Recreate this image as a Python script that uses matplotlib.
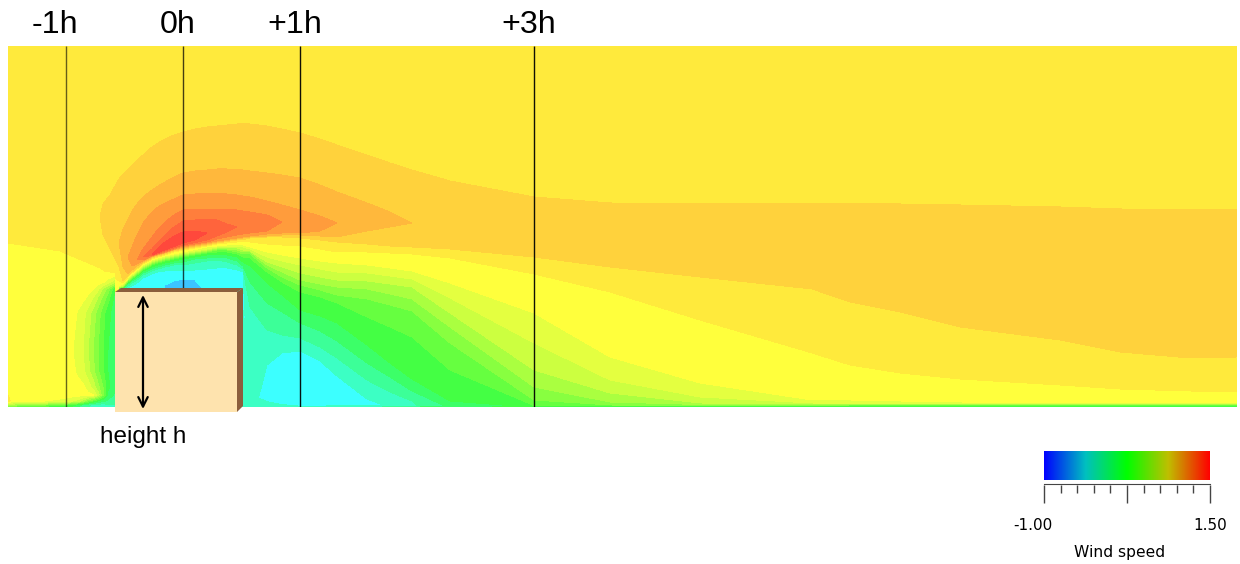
import numpy as np
import matplotlib
matplotlib.use('Agg')
import matplotlib.pyplot as plt
from matplotlib.colors import LinearSegmentedColormap
from matplotlib.patches import Polygon

plt.rcParams['font.family'] = ['Liberation Sans', 'DejaVu Sans']

# wind speed bands
levels = [-0.5, -0.4, -0.3, -0.2, -0.1, 0.0, 0.1, 0.2, 0.3, 0.4, 0.5, 0.6, 0.7, 0.8, 0.9, 1.0, 1.1, 1.2, 1.3, 1.4]
band_colors = ['#3CC4FF', '#3CFFFF', '#3CFFC4', '#3CFF98', '#3CFF68', '#44FF44', '#66FF40', '#88FF40',
               '#AAFF40', '#CCFF40', '#E4FF40', '#FFFF3C', '#FFEA3C', '#FFD23C', '#FFB83C', '#FF9C3C',
               '#FF7E3C', '#FF643C', '#FF483C']

# stations along the wind (px scale, 117 = one building height)
x_st = [8, 60, 100, 103, 110, 119, 123,
        128, 132, 137, 143, 152, 158, 165, 174, 183, 195, 207, 217, 227, 237, 243,
        250, 267, 282, 300, 320, 337, 367, 390, 412, 450, 534,
        610, 700, 812, 850, 900, 960, 1060, 1120, 1190, 1237]

u_ground = [.3, .3, .3, .3, .3, -.1, -.2,
            -.2, -.2, -.2, -.2, -.2, -.2, -.2, -.2, -.2, -.2, -.2, -.2, -.2, -.2, -.2,
            -.22, -.24, -.26, -.28, -.27, -.26, -.24, -.18, -.12, -.03, .03,
            .05, .05, .05, .05, .05, .05, .05, .05, .05, .05]
u_low = [.3, .3, .3, .3, .3, -.1, -.2,
         -.3, -.31, -.33, -.34, -.36, -.38, -.40, -.43, -.46, -.44, -.39, -.37, -.36, -.35, -.32,
         -.27, -.33, -.36, -.38, -.38, -.37, -.33, -.29, -.22, -.08, .02,
         .05, .05, .05, .05, .05, .05, .05, .05, .05, .05]
u_peak = [.75, .75, .80, .82, .87, .90, .95,
          1.0, 1.05, 1.1, 1.2, 1.3, 1.33, 1.35, 1.37, 1.38, 1.35, 1.30, 1.27, 1.24, 1.20, 1.19,
          1.17, 1.13, 1.10, 1.06, 1.03, 1.0, .96, .93, .90, .87, .85,
          .85, .85, .85, .85, .85, .85, .85, .85, .85, .85]
u_top = 0.75

# heights of the iso lines at each station, lower side of the peak
z_low = [.2, .2, .2, .2, .2, 115, 115,
         116, 116, 116, 116, 116, 116, 116, 116, 116, 116, 116, 116, 116, 116, 116,
         10, 8, 6, 4, 3.5, 3, 2, 1.5, 1, .5, .3,
         .3, .3, .3, .3, .3, .3, .3, .3, .3, .3]
z_m04 = [.2, .2, .2, .2, .2, 115, 115,
         116, 116, 116, 116, 116, 116, 122, 126, 128, 127, 122, 116, 116, 116, 116,
         10, 8, 6, 4, 3.5, 3, 2, 1.5, 1, .5, .3,
         .3, .3, .3, .3, .3, .3, .3, .3, .3, .3]
z_m03 = [.3, .3, .3, .3, .3, 115, 116,
         119, 121, 124, 129, 133, 135, 136, 136, 136, 137, 138, 139, 139, 137, 135,
         12, 42, 54, 56, 46, 31, 8, 1.5, 1, .5, .3,
         .3, .3, .3, .3, .3, .3, .3, .3, .3, .3]
z_m02 = [.4, .4, .4, .4, .4, 116, 117,
         121, 124, 127, 132, 136, 138, 140, 142, 142, 144, 146, 147, 145, 142, 138,
         100, 77, 72, 69, 60, 49, 27, 15, 6, .6, .4,
         .4, .4, .4, .4, .4, .4, .4, .4, .4, .4]
z_m01 = [.5, .5, .5, .5, .5, 117, 118,
         123, 126, 129, 134, 138, 140, 142, 144, 145, 148, 149, 150, 149, 146, 141,
         125, 104, 95, 84, 76, 66, 44, 30, 16, 2, .5,
         .5, .5, .5, .5, .5, .5, .5, .5, .5, .5]
z_p00 = [.6, .6, .6, .6, .6, 118, 119,
         124, 127.5, 131, 136, 140, 142, 144, 146, 148, 150, 152, 153, 152, 150, 145,
         141, 124, 112, 97, 91, 84, 62, 44, 28, 6, .8,
         .6, .6, .6, .6, .6, .6, .6, .6, .6, .6]
z_p01 = [.8, .8, .8, .8, .8, 118.5, 119.5,
         125, 128.5, 132, 137, 142, 144, 146, 148, 150, 152, 154, 155, 155, 153, 150,
         149, 135, 125, 115, 110, 104, 90, 80, 70, 37, 1.5,
         1, 1, 1, 1.5, 1.5, 1.5, 1.5, 1.5, 1.5, 1.5]
z_p02 = [1, 1, 1, 1, 1, 119, 120,
         126, 129.5, 133, 138, 143, 145, 147, 149, 151, 153, 155, 157, 157, 155, 153,
         153, 139, 130, 122, 117, 112, 108, 102, 96, 64, 7,
         2, 1.5, 1.5, 2, 2, 2, 2, 2, 2, 2]
z_p03 = [2, 2, 2, 2, 2, 119.5, 120.5,
         127, 130.5, 134, 139, 144, 146, 148, 150, 152, 154, 156, 158, 158, 157, 155,
         155, 142, 135, 127, 123, 120, 118, 113, 108, 80, 20,
         5, 2.5, 2.5, 2.5, 2.5, 2.5, 2.5, 2.5, 2.5, 2.5]
z_p04 = [4, 4, 4, 4, 4, 120, 121,
         127.5, 131, 135, 140, 145, 147, 149, 151, 153, 155, 157, 159, 159, 159, 157,
         156, 145, 140, 134, 130, 127, 126, 123, 120, 94, 37,
         14, 4, 3, 3, 3, 3, 3, 3, 3, 3]
z_p05 = [8, 8, 8, 8, 8, 120, 122,
         128, 132, 136, 141, 146, 148, 150, 152, 154, 156, 158, 160, 160.5, 161, 160,
         158, 150, 146, 142, 138, 135, 134, 131, 128, 109, 64,
         27, 10, 4, 3.5, 3.5, 3.5, 3.5, 3.5, 3.5, 3.5]
z_p06 = [12, 12, 12, 12, 12, 121, 123,
         129, 133, 137, 142, 147, 149, 151, 153, 155, 157.5, 160, 161, 162, 162, 162,
         160, 155, 152, 149, 146, 144, 142, 139, 136, 124, 94,
         50, 24, 7, 7, 6, 5, 4, 4, 4, 4]
z_p07 = [164, 156, 139, 137, 132, 126, 124,
         130, 134, 138, 143, 148, 150, 152, 155, 157, 159, 161, 163, 164, 165, 166,
         165, 163, 162, 161, 158, 155, 155, 154, 153, 149, 133,
         115, 87, 54, 42, 34, 28, 22, 18, 16, 15]

# upstream and far wake are shared by the rows around the peak
z_head = [250, 230, 190, 185, 178, 164, 157]
z_tail = [172, 165, 158, 155, 150, 145, 135, 128, 123, 123]

z_p08l = ([250, 230, 190, 172, 158, 140, 126, 131, 135, 139, 144, 149, 151, 153, 156, 158, 160, 162, 164, 165.5, 167,
           167.5, 169, 170, 170, 169, 167, 165, 163, 161, 160, 158, 150] + [140, 130, 118, 105, 95, 80, 67, 55, 49, 50])
z_p09l = ([250, 230, 190, 185, 178, 164, 140, 133, 137, 141, 145, 150, 152, 154, 157, 159, 161, 163, 165, 166.5, 168,
           169, 170, 171, 172, 172, 171, 170, 176, 180, 184, 185, 180] + z_tail)
z_p10l = (z_head + [150, 141, 143, 146, 150.5, 152.5, 154.5, 157.5, 160, 162, 164, 166, 167.5, 169, 170,
                    171, 173, 174, 174, 176, 184, 184, 184, 184, 185, 180] + z_tail)
z_p11l = (z_head + [150, 148, 147, 147, 151, 153, 155, 158, 161, 163, 165, 168, 170, 172, 173,
                    174, 176, 185, 185, 185, 184, 184, 184, 184, 185, 180] + z_tail)
z_p12l = (z_head + [150, 148, 147, 150, 151.5, 153.5, 156, 159, 162, 164.5, 167, 171, 175, 180, 181,
                    182, 184, 185, 185, 185, 184, 184, 184, 184, 185, 180] + z_tail)
z_p13l = (z_head + [150, 148, 147, 150, 152, 154.5, 157, 160.5, 164, 167, 174, 176, 178, 180, 181,
                    182, 184, 185, 185, 185, 184, 184, 184, 184, 185, 180] + z_tail)
z_peak = (z_head + [150, 148, 147, 150, 152, 157, 161, 166, 170, 172, 174, 176, 178, 180, 181,
                    182, 184, 185, 185, 185, 184, 184, 184, 184, 185, 180] + z_tail)

# upper side of the peak
z_p13u = (z_head + [150, 148, 147, 150, 152, 159, 165, 171, 175, 176, 174, 176, 178, 180, 181,
                    182, 184, 185, 185, 185, 184, 184, 184, 184, 185, 180] + z_tail)
z_p12u = (z_head + [150, 148, 147, 150, 158, 165, 172, 180, 186, 187, 187, 187, 183, 180, 181,
                    182, 184, 185, 185, 185, 184, 184, 184, 184, 185, 180] + z_tail)
z_p11u = (z_head + [150, 148, 147, 158, 170, 178, 185, 192, 197, 197, 197, 197, 197, 197, 196,
                    195, 192, 185, 185, 185, 184, 184, 184, 184, 185, 180] + z_tail)
z_p10u = (z_head + [150, 160, 172, 184, 195, 200, 204, 208, 212, 213, 213, 213, 213, 212, 211,
                    210, 206, 202, 197, 191, 184, 184, 184, 184, 185, 180] + z_tail)
z_p09u = ([250, 230, 190, 185, 178, 164, 178, 188, 196, 203, 210, 217, 221, 225, 230, 234, 236, 237, 238, 238, 237, 237,
           236, 234, 232, 229, 222, 215, 204, 195, 184, 185, 180] + z_tail)
z_p08u = [250, 230, 190, 203, 212, 228, 233,
          238, 242, 247, 252, 260, 264, 268, 272, 275, 278, 280, 281, 282, 283, 283,
          283, 281, 278, 274, 268, 262, 252, 244, 237, 226, 210,
          204, 203, 203, 203, 203, 202, 200, 198, 197, 197]

# small table in front of the building, the iso lines bend back there
x_front = [8, 17, 60, 73, 78, 83, 88, 93, 98, 103, 108, 115]
z_front = [0, 2, 6, 12, 20, 35, 57, 94, 110, 118, 125, 135]
u_front = [
    [.10, .10, .00, -.05, -.10, -.15, -.20, -.25, -.25, -.25, -.25, -.20],
    [.35, .30, .15, .05, -.05, -.12, -.18, -.22, -.25, -.25, -.22, -.20],
    [.72, .64, .58, .50, .45, .35, .20, .10, .00, -.08, -.12, -.18],
    [.70, .65, .64, .64, .64, .63, .62, .61, .45, .22, -.03, -.12],
    [.65, .65, .65, .65, .64, .62, .56, .46, .33, .20, .03, -.08],
    [.65, .65, .65, .62, .58, .53, .44, .34, .22, .12, .00, -.08],
    [.65, .65, .65, .60, .55, .50, .40, .30, .20, .10, .00, -.08],
    [.65, .65, .65, .63, .59, .535, .46, .36, .25, .14, .03, -.05],
    [.65, .65, .65, .65, .64, .63, .59, .51, .40, .28, .15, -.03],
    [.66, .66, .66, .65, .65, .65, .63, .61, .53, .38, .27, .00],
    [.68, .68, .68, .67, .67, .66, .66, .65, .65, .62, .56, .42],
    [.68, .68, .68, .68, .68, .68, .68, .68, .68, .68, .69, .72],
]

section_x = [66, 183, 300, 534]
section_colors = ['#00000099', '#000000BB', '#000000EE', '#000000EE']
section_labels = ['-1h', '0h', '+1h', '+3h']
label_x = [55, 178, 295, 529]

cbar_min, cbar_max = -1.00, 1.50
cbar_ticks_major = [-1.0, 0.25, 1.5]
cbar_ticks_minor = [-0.75, -0.5, -0.25, 0.0, 0.5, 0.75, 1.0, 1.25]

W, H = 1240, 564


def px_axes(fig, left, top, right, bottom):
    return fig.add_axes([left / W, 1 - bottom / H, (right - left) / W, (bottom - top) / H])


def build_field():
    """stack the rows into a curved grid (bottom to top)"""
    low = np.array(u_low)
    peak = np.array(u_peak)
    n = len(x_st)
    rows = [(np.zeros(n), np.array(u_ground)), (np.array(z_low), low)]
    for z, lev in [(z_m04, -.4), (z_m03, -.3), (z_m02, -.2), (z_m01, -.1), (z_p00, 0.), (z_p01, .1), (z_p02, .2),
                   (z_p03, .3), (z_p04, .4), (z_p05, .5), (z_p06, .6), (z_p07, .7)]:
        rows.append((np.array(z, dtype=float), np.maximum(lev, low)))
    for z, lev in [(z_p08l, .8), (z_p09l, .9), (z_p10l, 1.), (z_p11l, 1.1), (z_p12l, 1.2), (z_p13l, 1.3)]:
        rows.append((np.array(z, dtype=float), np.minimum(lev, peak)))
    rows.append((np.array(z_peak, dtype=float), peak))
    for z, lev in [(z_p13u, 1.3), (z_p12u, 1.2), (z_p11u, 1.1), (z_p10u, 1.), (z_p09u, .9), (z_p08u, .8)]:
        rows.append((np.array(z, dtype=float), np.minimum(lev, peak)))
    rows.append((np.full(n, 361.0), np.full(n, u_top)))
    Z = np.array([r[0] for r in rows])
    U = np.array([r[1] for r in rows])
    # keep every column increasing, otherwise the quads fold over
    Z = np.maximum.accumulate(Z, axis=0) + 1e-3 * np.arange(Z.shape[0])[:, None]
    X = np.tile(np.array(x_st, dtype=float), (Z.shape[0], 1))
    return X, Z, U


fig = plt.figure(figsize=(W / 100, H / 100), dpi=100)

# flow field
ax = px_axes(fig, 8, 46, 1237, 407)
X, Z, U = build_field()
ax.contourf(X, Z, U, levels=levels, colors=band_colors)
ax.contourf(x_front, z_front, np.array(u_front), levels=levels, colors=band_colors)
ax.vlines(section_x, 0, 361, colors=section_colors, lw=1)
ax.set_xlim(8, 1237)
ax.set_ylim(0, 361)
ax.axis('off')

# overlay in picture px for building and labels
ov = fig.add_axes([0, 0, 1, 1])
ov.set_xlim(0, W)
ov.set_ylim(H, 0)
ov.axis('off')
ov.patch.set_alpha(0)

bl, br, bt, bb, dx, dy = 115, 237, 292, 412, 6, 4
ov.add_patch(Polygon([(bl, bt), (br, bt), (br, bb), (bl, bb)], fc='#FEE3AE', ec='none'))
ov.add_patch(Polygon([(bl, bt), (bl + dx, bt - dy), (br + dx, bt - dy), (br, bt)], fc='#8B5E3C', ec='none'))
ov.add_patch(Polygon([(br, bt), (br + dx, bt - dy), (br + dx, bb - 6), (br, bb)], fc='#8B5E3C', ec='none'))
ov.annotate('', xy=(143, 295), xytext=(143, 409),
            arrowprops=dict(arrowstyle='<->', color='black', lw=1.6, mutation_scale=17, shrinkA=0, shrinkB=0))

for lx, lab in zip(label_x, section_labels):
    ov.text(lx, 25, lab, fontsize=23.2, ha='center', va='center', color='black')
ov.text(143, 437, 'height h', fontsize=17.5, ha='center', va='center', color='black')

# colour scale
cmap = LinearSegmentedColormap.from_list('wind', ['#0000FF', '#00C0C0', '#00FF00', '#BFBF00', '#FF0000'])
cax = px_axes(fig, 1044, 451, 1210, 480)
cax.imshow(np.linspace(cbar_min, cbar_max, 256)[None, :], cmap=cmap, aspect='auto',
           extent=[cbar_min, cbar_max, 0, 1], vmin=cbar_min, vmax=cbar_max)
cax.axis('off')

tax = px_axes(fig, 1044, 484, 1210, 485)
tax.set_xlim(cbar_min, cbar_max)
tax.set_yticks([])
for s in ['left', 'right', 'bottom']:
    tax.spines[s].set_visible(False)
tax.spines['top'].set_color('#444444')
tax.patch.set_alpha(0)
tax.set_xticks(cbar_ticks_major)
tax.set_xticks(cbar_ticks_minor, minor=True)
tax.set_xticklabels([])
tax.tick_params(axis='x', which='major', length=13, width=1, color='#444444')
tax.tick_params(axis='x', which='minor', length=6, width=1, color='#444444')

ov.text(1033, 525, '-1.00', fontsize=11, family='DejaVu Sans', ha='center', va='center', color='black')
ov.text(1210, 525, '1.50', fontsize=11, family='DejaVu Sans', ha='center', va='center', color='black')
ov.text(1120, 553, 'Wind speed', fontsize=11.2, family='DejaVu Sans', ha='center', va='center', color='black')

fig.savefig('out.png', dpi=100)
